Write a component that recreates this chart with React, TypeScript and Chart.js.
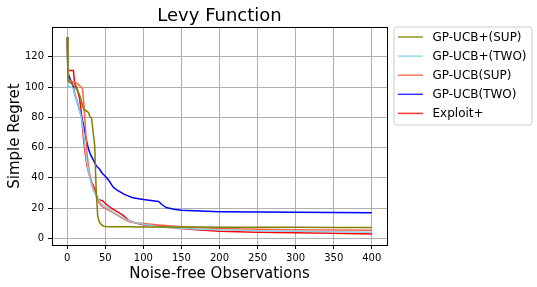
import { useEffect, useRef } from "react";
import { Chart, registerables } from "chart.js";

Chart.register(...registerables);

// Shared x positions (number of noise-free observations)
const observations = [0, 1, 2, 4, 6, 8, 10, 12, 14, 16, 18, 20, 22, 24, 26, 28, 30, 32, 34, 36, 38, 40, 42, 44, 46, 48, 50, 55, 60, 65, 70, 75, 80, 85, 90, 100, 110, 120, 125, 130, 140, 150, 175, 200, 250, 300, 350, 400];

const gpUcbPlusSup = [133, 104, 103.5, 103, 102, 101, 100, 99, 97, 95, 92, 88, 85, 84.5, 84, 83, 80, 79.5, 70, 62, 32, 15, 11, 9.5, 8.5, 8, 7.8, 7.7, 7.7, 7.6, 7.6, 7.6, 7.6, 7.6, 7.5, 7.5, 7.5, 7.5, 7.5, 7.4, 7.4, 7.4, 7.4, 7.3, 7.3, 7.3, 7.2, 7.2];
const gpUcbPlusTwo = [133, 101, 100.5, 100, 99.5, 99, 95, 92, 89, 85, 81, 76, 67, 58, 50, 44, 39, 35, 32, 30, 28, 26.5, 25, 23.5, 22.5, 21.5, 21, 19.5, 17.5, 16, 14.5, 13, 11.8, 11, 10.3, 9.2, 8.4, 7.7, 7.4, 7.2, 6.9, 6.6, 6, 5.6, 5, 4.6, 4.3, 4.0];
const gpUcbSup = [133, 104, 104, 104, 103.5, 103.5, 103, 102.5, 102, 101, 100, 99, 88, 72, 56, 47, 41, 37, 34, 31, 28, 25, 23.5, 22, 21, 20.3, 19.8, 18.5, 17, 15.5, 14, 12.5, 11.2, 10.6, 10.2, 9.8, 9.3, 8.8, 8.6, 8.4, 8, 7.6, 7, 6.4, 5.9, 5.6, 5.4, 5.3];
const gpUcbTwo = [133, 110, 108, 105, 103, 100, 95, 92, 89, 85, 82, 78, 74, 68, 63, 59, 56, 54, 52, 50, 48, 47, 46, 44.5, 43, 42, 41, 38, 34, 32, 30.5, 29, 28, 27, 26.5, 25.6, 25, 24.3, 22, 20.3, 19.2, 18.6, 18, 17.6, 17.3, 17.2, 17.1, 16.9];
const exploitPlus = [133, 111, 111, 111, 111, 111, 102, 100, 97, 93, 86, 74, 63, 55, 48, 44, 40, 37, 35, 33, 29, 26.5, 25.5, 25.2, 25, 24, 23, 21, 19.2, 17.8, 16.3, 14.5, 12, 11, 10, 9, 8.5, 7.9, 7.6, 7.3, 6.9, 6.5, 5.5, 4.7, 4.0, 3.7, 3.3, 2.8];

const seriesLabels = ["GP-UCB+(SUP)", "GP-UCB+(TWO)", "GP-UCB(SUP)", "GP-UCB(TWO)", "Exploit+"];
const seriesColors = ["rgb(128,128,0)", "rgb(135,206,235)", "rgb(255,99,71)", "rgb(0,0,255)", "rgb(255,0,0)"];
const legendColors = ["rgba(128,128,0,0.85)", "rgba(135,206,235,0.85)", "rgba(255,99,71,0.85)", "rgba(0,0,255,0.8)", "rgba(255,0,0,0.8)"];
const seriesValues = [gpUcbPlusSup, gpUcbPlusTwo, gpUcbSup, gpUcbTwo, exploitPlus];

const xTickValues = [0, 50, 100, 150, 200, 250, 300, 350, 400];
const yTickValues = [0, 20, 40, 60, 80, 100, 120];

const titleText = "Levy Function";
const xTitle = "Noise-free Observations";
const yTitle = "Simple Regret";

const FONT = "'DejaVu Sans', sans-serif";

const decorPlugin = {
  id: "decor",
  afterDatasetsDraw(chart: any) {
    const { ctx, chartArea: a } = chart;
    ctx.save();
    ctx.strokeStyle = "#000";
    ctx.lineWidth = 1;
    ctx.strokeRect(a.left + 0.5, a.top + 0.5, a.right - a.left, a.bottom - a.top);
    ctx.restore();
  },
  afterDraw(chart: any) {
    const { ctx, chartArea: a } = chart;
    ctx.save();
    ctx.fillStyle = "#000";
    ctx.font = `18px ${FONT}`;
    ctx.textAlign = "center";
    ctx.textBaseline = "alphabetic";
    ctx.fillText(titleText, (a.left + a.right) / 2, 21);
    ctx.font = `15px ${FONT}`;
    ctx.fillText(xTitle, (a.left + a.right) / 2, 278);
    ctx.save();
    ctx.translate(18.5, (a.top + a.bottom) / 2);
    ctx.rotate(-Math.PI / 2);
    ctx.fillText(yTitle, 0, 0);
    ctx.restore();

    const bx = 394, by = 27, bw = 138, bh = 98, r = 3;
    ctx.beginPath();
    ctx.moveTo(bx + r, by);
    ctx.lineTo(bx + bw - r, by);
    ctx.arcTo(bx + bw, by, bx + bw, by + r, r);
    ctx.lineTo(bx + bw, by + bh - r);
    ctx.arcTo(bx + bw, by + bh, bx + bw - r, by + bh, r);
    ctx.lineTo(bx + r, by + bh);
    ctx.arcTo(bx, by + bh, bx, by + bh - r, r);
    ctx.lineTo(bx, by + r);
    ctx.arcTo(bx, by, bx + r, by, r);
    ctx.closePath();
    ctx.fillStyle = "rgba(255,255,255,0.8)";
    ctx.fill();
    ctx.strokeStyle = "#cccccc";
    ctx.lineWidth = 1;
    ctx.stroke();

    ctx.font = `12px ${FONT}`;
    ctx.textAlign = "left";
    ctx.textBaseline = "middle";
    chart.data.datasets.forEach((ds: any, i: number) => {
      const y = 37 + i * 19.1;
      ctx.strokeStyle = legendColors[i];
      ctx.lineWidth = 1.5;
      ctx.beginPath();
      ctx.moveTo(398, y);
      ctx.lineTo(423, y);
      ctx.stroke();
      ctx.fillStyle = "#000";
      ctx.fillText(ds.label, 432.5, y + 0.5);
    });
    ctx.restore();
  },
};

export default function App() {
  const canvasRef = useRef<HTMLCanvasElement | null>(null);

  useEffect(() => {
    document.body.style.margin = "0";
    const canvas = canvasRef.current;
    if (!canvas) return;
    const datasets = seriesLabels.map((label, i) => ({
      label,
      data: observations.map((x, j) => ({ x, y: seriesValues[i][j] })),
      borderColor: seriesColors[i],
      backgroundColor: seriesColors[i],
      borderWidth: 1.5,
      pointRadius: 0,
      tension: 0,
      fill: false,
    }));
    const chart = new Chart(canvas, {
      type: "line",
      data: { datasets },
      options: {
        responsive: false,
        animation: false,
        devicePixelRatio: 1,
        layout: { padding: { left: 0, top: 27, right: 150, bottom: 0 } },
        plugins: { legend: { display: false }, title: { display: false }, tooltip: { enabled: false } },
        scales: {
          x: {
            type: "linear",
            min: -20,
            max: 420,
            afterBuildTicks: (scale: any) => {
              scale.ticks = xTickValues.map((v) => ({ value: v }));
            },
            afterFit: (scale: any) => {
              scale.height = 42;
            },
            grid: { color: "#b0b0b0", lineWidth: 1, tickLength: 4, tickColor: "#000", tickWidth: 1, drawTicks: true },
            border: { display: false },
            ticks: {
              autoSkip: false,
              maxRotation: 0,
              padding: 3,
              color: "#000",
              font: { family: FONT, size: 10 },
              callback: (v: any) => String(v),
            },
          },
          y: {
            type: "linear",
            min: -4.45,
            max: 139.7,
            afterBuildTicks: (scale: any) => {
              scale.ticks = yTickValues.map((v) => ({ value: v }));
            },
            afterFit: (scale: any) => {
              scale.width = 52;
            },
            grid: { color: "#b0b0b0", lineWidth: 1, tickLength: 4, tickColor: "#000", tickWidth: 1, drawTicks: true },
            border: { display: false },
            ticks: {
              autoSkip: false,
              padding: 4,
              color: "#000",
              font: { family: FONT, size: 10 },
              callback: (v: any) => String(v),
            },
          },
        },
      },
      plugins: [decorPlugin],
    });
    return () => chart.destroy();
  }, []);

  return (
    <div style={{ width: 537, height: 287 }}>
      <canvas ref={canvasRef} width={537} height={287} style={{ display: "block", width: 537, height: 287 }} />
    </div>
  );
}
